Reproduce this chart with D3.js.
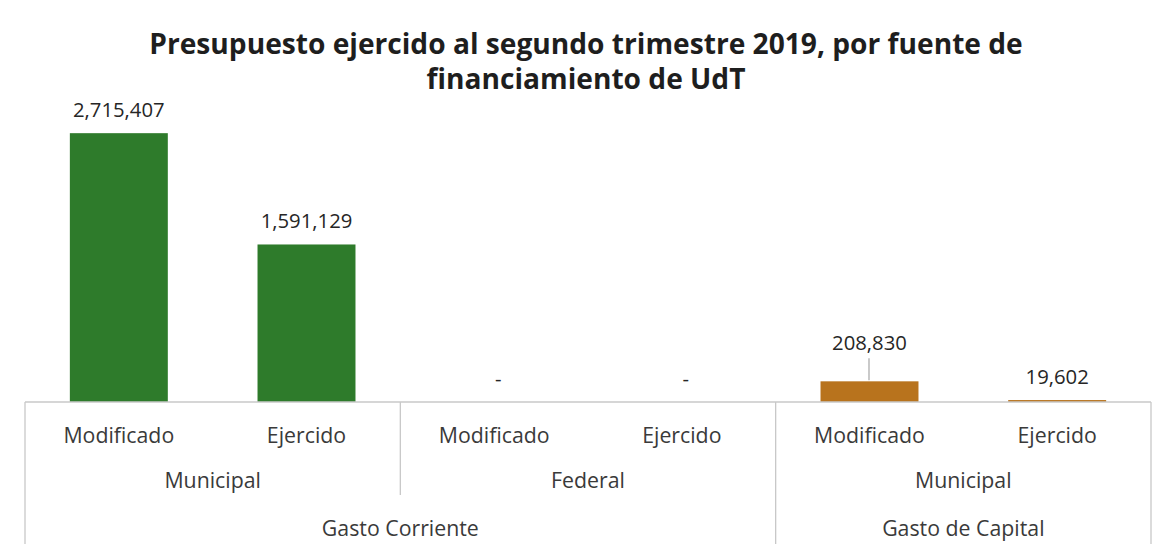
<!DOCTYPE html>
<html><head><meta charset="utf-8">
<script src="https://cdn.jsdelivr.net/npm/d3@7/dist/d3.min.js"></script>
<style>html,body{margin:0;padding:0;background:#fff;}svg{display:block;}</style>
</head><body>
<svg id="c" width="1161" height="544"></svg>
<script>
const titleLines = ["Presupuesto ejercido al segundo trimestre 2019, por fuente de", "financiamiento de UdT"];
const conceptos = ["Gasto Corriente","Gasto Corriente","Gasto Corriente","Gasto Corriente","Gasto de Capital","Gasto de Capital"];
const fuentes = ["Municipal","Municipal","Federal","Federal","Municipal","Municipal"];
const etapas = ["Modificado","Ejercido","Modificado","Ejercido","Modificado","Ejercido"];
const valores = [2715407, 1591129, 0, 0, 208830, 19602];
const coloresConcepto = {"Gasto Corriente":"#2e7b2b","Gasto de Capital":"#b8731d"};

(function(){
const W = 1161, H = 544;
const pLeft = 25, pRight = 1151, base = 402, pTop = 105;
const FONT = "'Open Sans', 'Noto Sans', sans-serif";
const svg = d3.select("#c");
svg.append("rect").attr("width",W).attr("height",H).attr("fill","#fff");

const keys = valores.map((v,i)=>i);
const x = d3.scaleBand().domain(keys).range([pLeft,pRight]).padding(0);
const xb = d3.scaleBand().domain(keys).range([pLeft,pRight]).paddingInner(0.478).paddingOuter(0.239);
const y = d3.scaleLinear().domain([0,3000000]).range([base, pTop]);

// title
const tg = svg.append("g");
titleLines.forEach((t,i)=>{
  tg.append("text").attr("x",586).attr("y",54 + i*35)
    .attr("text-anchor","middle").attr("font-family",FONT).attr("font-weight","bold")
    .attr("font-size",26).attr("fill","#1e1e1e").text(t);
});
const w0 = tg.select("text").node().getComputedTextLength();
tg.selectAll("text").attr("font-size", 26*874/w0);

// bars
svg.append("g").selectAll("rect").data(keys).join("rect")
  .attr("x",i=>xb(i)).attr("width",xb.bandwidth())
  .attr("y",i=>y(valores[i])).attr("height",i=>base-y(valores[i]))
  .attr("fill",i=>coloresConcepto[conceptos[i]]);

// axis line
svg.append("line").attr("x1",pLeft).attr("x2",pRight).attr("y1",base).attr("y2",base)
  .attr("stroke","#c8c8c8").attr("stroke-width",1.3);

// separators
for(let b=0;b<=keys.length;b++){
  const xx = b===keys.length ? pRight : x(b);
  let y2 = null;
  if(b===0||b===keys.length||conceptos[b]!==conceptos[b-1]) y2 = H;
  else if(fuentes[b]!==fuentes[b-1]) y2 = 495;
  if(y2!==null) svg.append("line").attr("x1",xx).attr("x2",xx).attr("y1",base).attr("y2",y2)
    .attr("stroke","#c8c8c8").attr("stroke-width",1.3);
}

// category labels
const catG = svg.append("g").attr("font-family",FONT).attr("fill","#3a3a3a").attr("text-anchor","middle");
catG.selectAll("text").data(keys).join("text")
  .attr("x",i=>x(i)+x.bandwidth()/2).attr("y",443).attr("font-size",21.3).text(i=>etapas[i]);

function groups(arr, extra){
  const out=[]; let s=0;
  for(let i=1;i<=arr.length;i++){
    if(i===arr.length || arr[i]!==arr[s] || (extra && extra[i]!==extra[s])){ out.push({name:arr[s],a:s,b:i-1}); s=i; }
  }
  return out;
}
const fg = groups(fuentes, conceptos);
catG.append("g").selectAll("text").data(fg).join("text")
  .attr("x",d=>(x(d.a)+x(d.b)+x.bandwidth())/2).attr("y",488).attr("font-size",21.3).text(d=>d.name);
const cg = groups(conceptos);
catG.append("g").selectAll("text").data(cg).join("text")
  .attr("x",d=>(x(d.a)+x(d.b)+x.bandwidth())/2).attr("y",536).attr("font-size",21.3).text(d=>d.name);

// data labels
const fmt = d3.format(",");
const lift = i => i===4 ? 15 : 0;
const lg = svg.append("g").attr("font-family",FONT).attr("fill","#262626").attr("text-anchor","middle");
lg.selectAll("text").data(keys).join("text")
  .attr("x",i=>x(i)+x.bandwidth()/2+(valores[i]===0?4:0))
  .attr("y",i=>y(valores[i]) - 16 - lift(i))
  .attr("font-size",20.3)
  .text(i=>valores[i]===0 ? "-" : fmt(valores[i]));
// leader line for moved label
keys.filter(i=>lift(i)>0).forEach(i=>{
  const cx = x(i)+x.bandwidth()/2 - 0.5;
  svg.append("line").attr("x1",cx).attr("x2",cx)
    .attr("y1",y(valores[i]) - 16 - lift(i) + 8).attr("y2",y(valores[i])-1)
    .attr("stroke","#a6a6a6").attr("stroke-width",1.2);
});
})();
</script>
</body></html>
